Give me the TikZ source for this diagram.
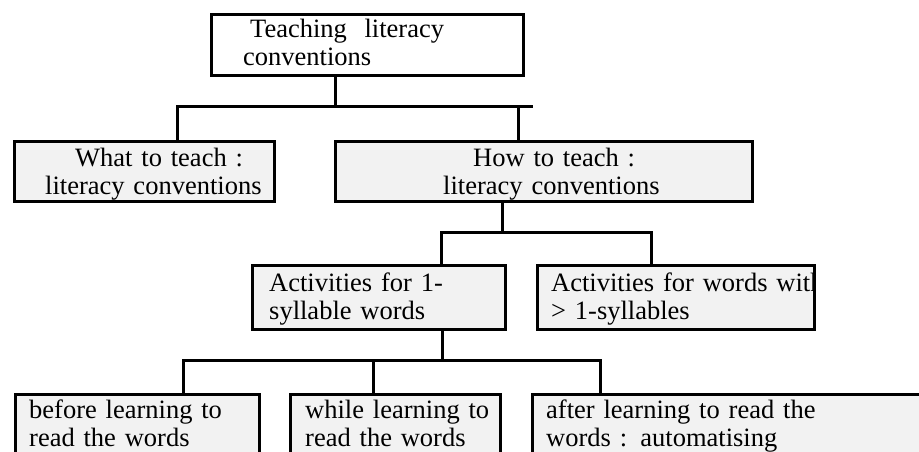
\documentclass[tikz,border=0pt]{standalone}
\usepackage{fontspec}
\setmainfont{Liberation Serif}
\definecolor{boxgray}{HTML}{F2F2F2}
\begin{document}
\begin{tikzpicture}[x=1pt,y=1pt,
  box/.style={draw=black, line width=3pt, fill=boxgray, rectangle, inner sep=0pt, anchor=north west},
  topbox/.style={box, fill=white},
  txt/.style={font=\fontsize{26.5}{28}\selectfont, inner sep=0pt, anchor=base west, text width=420pt, align=left},
  conn/.style={draw=black, line width=3pt, line join=miter}
]
\clip (0,0) rectangle (919,-452);
% boxes
\node[topbox, minimum width=312pt, minimum height=61pt] (top) at (210,-13) {};
\node[box, minimum width=260pt, minimum height=60pt] (what) at (13,-140) {};
\node[box, minimum width=417pt, minimum height=60pt] (how) at (334,-140) {};
\node[box, minimum width=253pt, minimum height=64pt] (act1) at (251,-264) {};
\node[box, minimum width=277pt, minimum height=64pt] (act2) at (536,-264) {};
\node[box, minimum width=244pt, minimum height=90pt] (before) at (14,-393) {};
\node[box, minimum width=210pt, minimum height=90pt] (while) at (289,-393) {};
\node[box, minimum width=409pt, minimum height=90pt] (after) at (531,-393) {};
% texts
\node[txt] (ttop) at (243,-38) {\hspace*{7pt}Teaching\ \ literacy\\conventions};
\node[txt] (twhat) at (45,-166) {\hspace*{30pt}What to teach :\\literacy conventions};
\node[txt] (thow) at (443,-166) {\hspace*{30pt}How to teach :\\literacy conventions};
\node[txt] (tact1) at (269,-291) {Activities for 1-\\syllable words};
\begin{scope}
  \clip ([xshift=1.5pt,yshift=-1.5pt]act2.north west) rectangle ([xshift=-1.5pt,yshift=1.5pt]act2.south east);
  \node[txt] (tact2) at (551,-291) {Activities for words with\\> 1-syllables};
\end{scope}
\node[txt] (tbefore) at (29,-418) {before learning to\\read the words};
\node[txt] (twhile) at (305,-418) {while learning to\\read the words};
\node[txt] (tafter) at (546,-418) {after learning to read the\\words : automatising};
% junctions
\coordinate (j1) at (335,-107);
\coordinate (j1w) at (177,-107);
\coordinate (j1e) at (533,-107);
\coordinate (j1h) at (518,-107);
\coordinate (j2m) at (502,-232);
\coordinate (j2w) at (441,-232);
\coordinate (j2e) at (651,-232);
\coordinate (j3a) at (442,-360);
\coordinate (j3w) at (183,-360);
\coordinate (j3m) at (373,-360);
\coordinate (j3e) at (600,-360);
% connectors
\draw[conn] (top.south -| j1) -- (j1);
\draw[conn] (what.north -| j1w) -- (j1w) -- (j1e);
\draw[conn] (j1h) -- (how.north -| j1h);
\draw[conn] (how.south -| j2m) -- (j2m);
\draw[conn] (act1.north -| j2w) -- (j2w) -- (j2e) -- (act2.north -| j2e);
\draw[conn] (act1.south -| j3a) -- (j3a);
\draw[conn] (before.north -| j3w) -- (j3w) -- (j3e) -- (after.north -| j3e);
\draw[conn] (j3m) -- (while.north -| j3m);
\end{tikzpicture}
\end{document}
